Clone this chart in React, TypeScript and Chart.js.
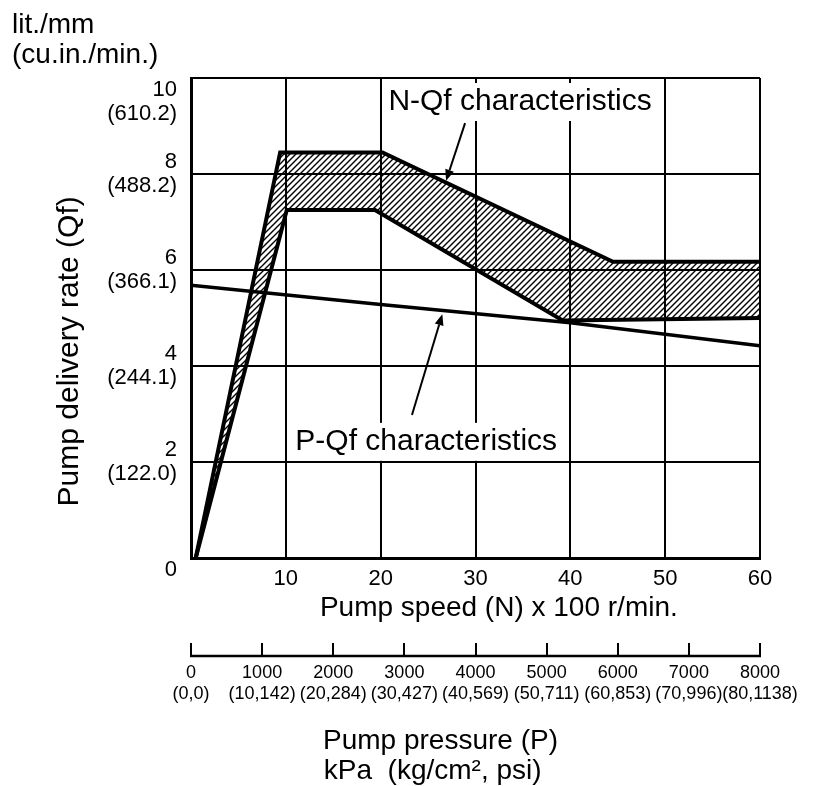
import { useEffect, useRef } from 'react';
import { Chart, registerables } from 'chart.js';

Chart.register(...registerables);

const FONT = '"Liberation Sans", Arial, Helvetica, sans-serif';

// N-Qf characteristics band (pump speed x100 r/min -> delivery rate lit./mm)
const nqfUpperSpeed = [0.5, 9.4, 20.2, 44.5, 60];
const nqfUpperRate = [0, 8.45, 8.45, 6.17, 6.17];
const nqfLowerSpeed = [0.5, 10.1, 19.4, 39.2, 60];
const nqfLowerRate = [0, 7.25, 7.25, 4.95, 5.0];
// P-Qf characteristics line
const pqfSpeed = [0, 20, 40, 60];
const pqfRate = [5.68, 5.28, 4.9, 4.42];

// Axis ticks
const speedTicks = [0, 10, 20, 30, 40, 50, 60];
const speedTickLabels = ['', '10', '20', '30', '40', '50', '60'];
const rateTicks = [0, 2, 4, 6, 8, 10];
const rateTickLabels = ['0', '2', '4', '6', '8', '10'];
const rateTickCuIn = ['', '(122.0)', '(244.1)', '(366.1)', '(488.2)', '(610.2)'];
const pressureTicks = [0, 1000, 2000, 3000, 4000, 5000, 6000, 7000, 8000];
const pressureTickLabels = ['0', '1000', '2000', '3000', '4000', '5000', '6000', '7000', '8000'];
const pressureTickKgPsi = ['(0,0)', '(10,142)', '(20,284)', '(30,427)', '(40,569)', '(50,711)', '(60,853)', '(70,996)', '(80,1138)'];

// Annotations (in data units)
const noteTexts = ['N-Qf characteristics', 'P-Qf characteristics'];
const noteSpeed = [34.7, 24.8];
const noteRate = [9.5, 2.42];
const arrowFromSpeed = [28.9, 23.3];
const arrowFromRate = [9.06, 2.98];
const arrowToSpeed = [26.9, 26.5];
const arrowToRate = [7.86, 5.08];

function makeHatch(ctx: CanvasRenderingContext2D | null) {
  const s = 6;
  const c = document.createElement('canvas');
  c.width = s;
  c.height = s;
  const g = c.getContext('2d')!;
  g.strokeStyle = '#000';
  g.lineWidth = 1.4;
  g.beginPath();
  g.moveTo(-1, s + 1);
  g.lineTo(s + 1, -1);
  g.moveTo(-1, 1);
  g.lineTo(1, -1);
  g.moveTo(s - 1, s + 1);
  g.lineTo(s + 1, s - 1);
  g.stroke();
  return (ctx || g).createPattern(c, 'repeat');
}

const pumpPlugin = {
  id: 'pumpAnnotations',
  beforeDatasetsDraw(chart: any) {
    const { ctx, scales } = chart;
    const x = scales.x;
    const y = scales.y;
    ctx.save();
    ctx.font = `30px ${FONT}`;
    ctx.textAlign = 'center';
    ctx.textBaseline = 'middle';
    noteTexts.forEach((t, i) => {
      const cx = x.getPixelForValue(noteSpeed[i]);
      const cy = y.getPixelForValue(noteRate[i]);
      const w = ctx.measureText(t).width;
      ctx.fillStyle = '#fff';
      ctx.fillRect(cx - w / 2 - 4, cy - 19, w + 8, 38);
      ctx.fillStyle = '#000';
      ctx.fillText(t, cx, cy);
    });
    ctx.restore();
  },
  afterDatasetsDraw(chart: any) {
    const { ctx, scales } = chart;
    const x = scales.x;
    const y = scales.y;
    ctx.save();
    ctx.strokeStyle = '#000';
    ctx.fillStyle = '#000';
    ctx.lineWidth = 2;
    arrowFromSpeed.forEach((_, i) => {
      const x0 = x.getPixelForValue(arrowFromSpeed[i]);
      const y0 = y.getPixelForValue(arrowFromRate[i]);
      const x1 = x.getPixelForValue(arrowToSpeed[i]);
      const y1 = y.getPixelForValue(arrowToRate[i]);
      const ang = Math.atan2(y1 - y0, x1 - x0);
      const L = 11;
      const H = 4.5;
      const bx = x1 - L * Math.cos(ang);
      const by = y1 - L * Math.sin(ang);
      ctx.beginPath();
      ctx.moveTo(x0, y0);
      ctx.lineTo(bx, by);
      ctx.stroke();
      ctx.beginPath();
      ctx.moveTo(x1, y1);
      ctx.lineTo(bx + H * Math.sin(ang), by - H * Math.cos(ang));
      ctx.lineTo(bx - H * Math.sin(ang), by + H * Math.cos(ang));
      ctx.closePath();
      ctx.fill();
    });
    ctx.restore();
  },
  afterDraw(chart: any) {
    const { ctx, scales } = chart;
    const p = scales.x2;
    const yLine = p.top + 13;
    ctx.save();
    ctx.strokeStyle = '#000';
    ctx.lineWidth = 2.5;
    ctx.beginPath();
    ctx.moveTo(p.getPixelForValue(pressureTicks[0]) - 1, yLine);
    ctx.lineTo(p.getPixelForValue(pressureTicks[pressureTicks.length - 1]) + 1, yLine);
    ctx.stroke();
    ctx.restore();
  },
};

export default function App() {
  const ref = useRef<HTMLCanvasElement>(null);

  useEffect(() => {
    const canvas = ref.current;
    if (!canvas) return;
    const hatch = makeHatch(canvas.getContext('2d'));
    const pts = (xs: number[], ys: number[]) => xs.map((v, i) => ({ x: v, y: ys[i] }));

    const chart = new Chart(canvas, {
      type: 'line',
      data: {
        datasets: [
          {
            label: 'N-Qf characteristics (max)',
            data: pts(nqfUpperSpeed, nqfUpperRate),
            borderColor: '#000',
            borderWidth: 4,
            pointRadius: 0,
            borderJoinStyle: 'miter',
            fill: '+1',
            backgroundColor: hatch as any,
            xAxisID: 'x',
            yAxisID: 'y',
          },
          {
            label: 'N-Qf characteristics (min)',
            data: pts(nqfLowerSpeed, nqfLowerRate),
            borderColor: '#000',
            borderWidth: 4,
            pointRadius: 0,
            borderJoinStyle: 'miter',
            fill: false,
            xAxisID: 'x',
            yAxisID: 'y',
          },
          {
            label: 'P-Qf characteristics',
            data: pts(pqfSpeed, pqfRate),
            borderColor: '#000',
            borderWidth: 3.5,
            pointRadius: 0,
            fill: false,
            xAxisID: 'x',
            yAxisID: 'y',
          },
        ],
      },
      options: {
        responsive: false,
        animation: false,
        events: [],
        layout: { padding: { left: 12, right: 56, top: 0, bottom: 0 } },
        plugins: {
          legend: { display: false },
          tooltip: { enabled: false },
          title: {
            display: true,
            align: 'start',
            text: ['lit./mm', '(cu.in./min.)'],
            color: '#000',
            font: { family: FONT, size: 28, weight: 'normal', lineHeight: '30px' },
            padding: { top: 10, bottom: 8 },
          },
        },
        scales: {
          x: {
            type: 'linear',
            position: 'bottom',
            min: 0,
            max: 60,
            weight: 0,
            afterBuildTicks: (s: any) => {
              s.ticks = speedTicks.map((v) => ({ value: v }));
            },
            afterFit: (s: any) => {
              s.height = 85;
            },
            grid: { color: '#000', lineWidth: 2, drawTicks: false },
            border: { color: '#000', width: 3 },
            ticks: {
              color: '#000',
              padding: 8,
              maxRotation: 0,
              autoSkip: false,
              font: { family: FONT, size: 22 },
              callback: (v: any) => {
                const i = speedTicks.indexOf(Number(v));
                return i >= 0 ? speedTickLabels[i] : '';
              },
            },
            title: {
              display: true,
              text: '      Pump speed (N) x 100 r/min.',
              color: '#000',
              font: { family: FONT, size: 28 },
              padding: { top: 0, bottom: 18 },
            },
          },
          x2: {
            type: 'linear',
            position: 'bottom',
            min: 0,
            max: 8000,
            weight: 10,
            afterBuildTicks: (s: any) => {
              s.ticks = pressureTicks.map((v) => ({ value: v }));
            },
            afterFit: (s: any) => {
              s.height = 143;
            },
            grid: { drawOnChartArea: false, drawTicks: true, tickLength: 13, color: '#000', lineWidth: 2 },
            border: { display: false },
            ticks: {
              color: '#000',
              padding: 7,
              maxRotation: 0,
              autoSkip: false,
              font: { family: FONT, size: 18, lineHeight: '21px' },
              callback: (v: any) => {
                const i = pressureTicks.indexOf(Number(v));
                return i >= 0 ? [pressureTickLabels[i], pressureTickKgPsi[i]] : '';
              },
            },
            title: {
              display: true,
              text: ['Pump pressure (P)         ', 'kPa  (kg/cm\u00B2, psi)           '],
              color: '#000',
              font: { family: FONT, size: 28, lineHeight: '30px' },
              padding: { top: 0, bottom: 0 },
            },
          },
          y: {
            type: 'linear',
            position: 'left',
            min: 0,
            max: 10,
            afterBuildTicks: (s: any) => {
              s.ticks = rateTicks.map((v) => ({ value: v }));
            },
            afterFit: (s: any) => {
              s.width = 179;
            },
            grid: { color: '#000', lineWidth: 2, drawTicks: false },
            border: { color: '#000', width: 3 },
            ticks: {
              color: '#000',
              padding: 14,
              autoSkip: false,
              font: { family: FONT, size: 22, lineHeight: '24px' },
              callback: (v: any) => {
                const i = rateTicks.indexOf(Number(v));
                if (i < 0) return '';
                if (i === 0) return ['', rateTickLabels[i]];
                if (i === rateTicks.length - 1) return ['', '', rateTickLabels[i], rateTickCuIn[i]];
                return [rateTickLabels[i], rateTickCuIn[i]];
              },
            },
            title: {
              display: true,
              text: 'Pump delivery rate (Qf)        ',
              color: '#000',
              font: { family: FONT, size: 30 },
              padding: { top: 40, bottom: 0 },
            },
          },
        },
      },
      plugins: [pumpPlugin],
    } as any);

    return () => chart.destroy();
  }, []);

  return (
    <div style={{ position: 'fixed', left: 0, top: 0, width: 816, height: 786, background: '#fff' }}>
      <canvas ref={ref} width={816} height={786} style={{ display: 'block', width: 816, height: 786 }} />
    </div>
  );
}
